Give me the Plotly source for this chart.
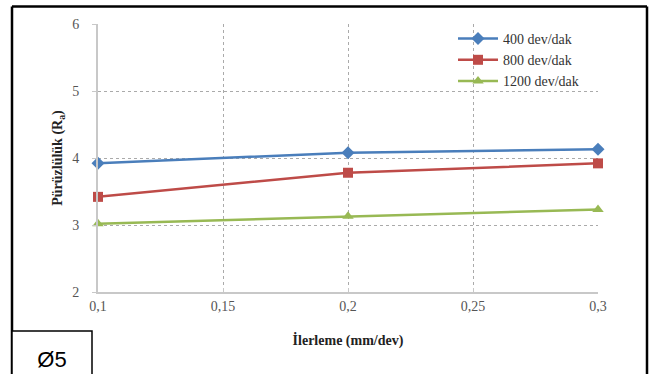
import plotly.graph_objects as go

feed = [0.1, 0.2, 0.3]
s400 = [3.92, 4.08, 4.13]
s800 = [3.42, 3.78, 3.92]
s1200 = [3.02, 3.13, 3.23]
names = ["400 dev/dak", "800 dev/dak", "1200 dev/dak"]
xticks = [0.1, 0.15, 0.2, 0.25, 0.3]
xticklabels = ["0,1", "0,15", "0,2", "0,25", "0,3"]
yticks = [2, 3, 4, 5, 6]

W, H = 655, 374
L, R, T, B = 98, 57, 24, 82
pw, ph = W - L - R, H - T - B

def px(x):
    return (x - L) / pw

def py(y):
    return (H - B - y) / ph

fig = go.Figure()
styles = [("#4A7EBB", "diamond", 10), ("#BE4B48", "square", 10), ("#98B954", "triangle-up", 10)]
for vals, name, (c, sym, sz) in zip([s400, s800, s1200], names, styles):
    fig.add_trace(go.Scatter(x=feed, y=vals, name=name, mode="lines+markers",
                             line=dict(color=c, width=2.5),
                             marker=dict(symbol=sym, size=sz, color=c),
                             cliponaxis=False))

font = "Liberation Serif"
fig.update_layout(
    width=W, height=H, margin=dict(l=L, r=R, t=T, b=B),
    paper_bgcolor="white", plot_bgcolor="white",
    font=dict(family=font, size=14, color="#555"),
    showlegend=True,
    legend=dict(x=px(453), y=py(23), xanchor="left", yanchor="top",
                bgcolor="rgba(0,0,0,0)", font=dict(family=font, size=14, color="#333"),
                tracegroupgap=0, itemwidth=40),
    xaxis=dict(range=[0.1, 0.3], tickvals=xticks, ticktext=xticklabels,
               showgrid=True, gridcolor="#aaa", griddash="dot", gridwidth=1,
               zeroline=False, showline=True, linecolor="#c8c8c8", linewidth=2,
               ticks="inside", ticklen=4, tickcolor="#c8c8c8",
               tickfont=dict(family=font, size=14, color="#555"),
               title=dict(text="<b>İlerleme (mm/dev)</b>", font=dict(family=font, size=14, color="#222"), standoff=22)),
    yaxis=dict(range=[2, 6], tickvals=yticks,
               showgrid=True, gridcolor="#aaa", griddash="dot", gridwidth=1,
               zeroline=False, showline=True, linecolor="#c8c8c8", linewidth=2,
               ticks="outside", ticklen=4, tickcolor="#c8c8c8", ticklabelstandoff=10,
               tickfont=dict(family=font, size=14, color="#555"),
               title=dict(text="<b>Pürüzlülük (R<sub>a</sub>)</b>", font=dict(family=font, size=14, color="#222"), standoff=6)),
)

blk = dict(color="black", width=2.5)
top = 6.5
# outer frame (left, top, right)
fig.add_shape(type="line", xref="paper", yref="paper", x0=px(12), x1=px(12), y0=py(376), y1=py(top), line=blk, layer="above")
fig.add_shape(type="line", xref="paper", yref="paper", x0=px(12), x1=px(647), y0=py(top), y1=py(top), line=blk, layer="above")
fig.add_shape(type="line", xref="paper", yref="paper", x0=px(647), x1=px(647), y0=py(376), y1=py(top), line=blk, layer="above")
# label box
fig.add_shape(type="rect", xref="paper", yref="paper",
              x0=px(12), x1=px(92), y0=py(380), y1=py(331),
              line=dict(color="black", width=1.5), fillcolor="white", layer="above")
fig.add_shape(type="rect", xref="paper", yref="paper",
              x0=px(14), x1=px(90), y0=py(372), y1=py(342),
              line=dict(width=0), fillcolor="rgba(0,0,0,0)", layer="above",
              label=dict(text="Ø5", textposition="middle center",
                         font=dict(family="Liberation Sans", size=22, color="black")))

fig.write_html("out.html", config={"displayModeBar": False},
               post_script="document.body.style.margin='0';document.body.style.overflow='hidden';")
